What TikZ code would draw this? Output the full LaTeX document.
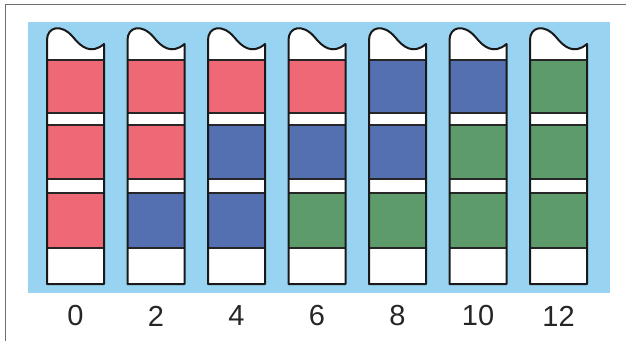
\documentclass[tikz,border=0pt]{standalone}
\usepackage{fontspec}
\setmainfont{Liberation Sans}
\definecolor{cR}{RGB}{238,104,118}
\definecolor{cB}{RGB}{84,112,176}
\definecolor{cG}{RGB}{94,155,106}
\definecolor{cBg}{RGB}{152,212,242}
\definecolor{frameg}{RGB}{110,110,110}
\tikzset{
  outline/.style={line width=2pt, draw=black!90, line join=round},
  sep/.style={line width=2.2pt, draw=black!85},
  lbl/.style={font=\fontsize{29}{30}\selectfont, text=black!85, inner sep=0pt, anchor=center},
}
\begin{document}
\begin{tikzpicture}[x=1pt,y=-1pt]
\useasboundingbox (0,0) rectangle (626,341);
\fill[white] (0,0) rectangle (626,341);
\draw[frameg, line width=1.5pt] (626,4.5) -- (5.5,4.5) -- (5.5,341);
\fill[cBg] (28,22) rectangle (610,293);
\foreach \i/\a/\b/\c/\t in {0/cR/cR/cR/0, 1/cR/cR/cB/2, 2/cR/cB/cB/4, 3/cR/cB/cG/6, 4/cB/cB/cG/8, 5/cB/cG/cG/10, 6/cG/cG/cG/12}{
  \pgfmathsetmacro{\L}{47+80.5*\i}
  \pgfmathsetmacro{\R}{\L+57}
  \path[fill=white] (\L,284) -- (\L,40) .. controls (\L,27) and (\L+14,23) .. (\L+26,37) .. controls (\L+34,47) and (\L+44,55) .. (\R,44) -- (\R,284) -- cycle;
  \fill[\a] (\L,60) rectangle (\R,113);
  \fill[\b] (\L,125) rectangle (\R,179);
  \fill[\c] (\L,193) rectangle (\R,248);
  \foreach \y in {60,113,125,179,193,248}{
    \draw[sep] (\L,\y) -- (\R,\y);
  }
  \draw[outline] (\L,284) -- (\L,40) .. controls (\L,27) and (\L+14,23) .. (\L+26,37) .. controls (\L+34,47) and (\L+44,55) .. (\R,44) -- (\R,284) -- cycle;
  \node[lbl] (t\i) at (\L+28.5,316) {\t};
}
\end{tikzpicture}
\end{document}
